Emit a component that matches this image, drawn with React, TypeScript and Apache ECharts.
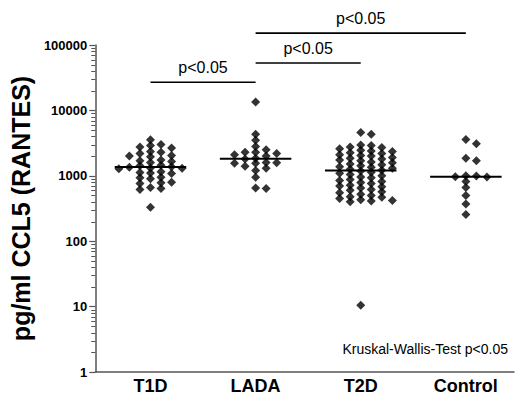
import React, { useEffect, useRef } from "react";
import * as echarts from "echarts";

// ---------- data ----------
const categories = ["T1D", "LADA", "T2D", "Control"];

const t1dValues = [
  3550, 3000, 2900, 2750, 2650, 2350, 2300, 2200, 2050, 2000, 1950, 1750,
  1700, 1650, 1600, 1300, 1280, 1450, 1420, 1380, 1350, 1320, 1150, 1120,
  1100, 1080, 950, 930, 900, 800, 780, 760, 660, 640, 620, 330,
];
const ladaValues = [
  13500, 4300, 3500, 2800, 2500, 2300, 2300, 2200, 2100, 2000, 1850, 1800,
  1600, 1580, 1560, 1550, 1400, 1300, 1200, 950, 650, 640,
];
const t2dValues = [
  4600, 4300, 2950, 2900, 2750, 2700, 2600, 2450, 2400, 2350, 2250, 2200,
  2100, 2050, 2000, 1900, 1850, 1800, 1750, 1700, 1620, 1580, 1520, 1480,
  1420, 1380, 1350, 1300, 1260, 1220, 1180, 1130, 1090, 1050, 1000, 960,
  930, 880, 850, 820, 790, 760, 720, 700, 680, 650, 620, 600, 570, 550,
  520, 500, 480, 470, 450, 430, 420, 410, 400, 10.5,
];
const controlValues = [3600, 3100, 1850, 1700, 1000, 990, 970, 960, 820, 660, 500, 370, 255];

const groups = [t1dValues, ladaValues, t2dValues, controlValues];

// significance comparisons: [from group, to group, label]
const comparisons: [number, number, string][] = [
  [0, 1, "p<0.05"],
  [1, 2, "p<0.05"],
  [1, 3, "p<0.05"],
];
const testNote = "Kruskal-Wallis-Test p<0.05";
const yAxisTitle = "pg/ml CCL5 (RANTES)";

// ---------- layout ----------
const W = 516;
const H = 406;
const GRID = { left: 89, top: 45, right: 2, bottom: 34 };
const X_MIN = -0.525;
const X_MAX = 3.458;
const Y_MIN = 1;
const Y_MAX = 100000;
const bracketLevels = [27000, 53000, 152000];
const MEDIAN_HALF = 0.34;
const COL_W = 10.7;
const MIN_DY = 5;
const AXIS_COLOR = "#555";
const FONT = "'Liberation Sans', Arial, sans-serif";

const gridW = W - GRID.left - GRID.right;
const gridH = H - GRID.top - GRID.bottom;
const pxPerUnit = gridW / (X_MAX - X_MIN);
const pxPerDecade = gridH / Math.log10(Y_MAX / Y_MIN);

function median(arr: number[]) {
  const s = [...arr].sort((a, b) => a - b);
  const n = s.length;
  return n % 2 ? s[(n - 1) / 2] : (s[n / 2 - 1] + s[n / 2]) / 2;
}

// Prism-like column scatter layout
function swarm(values: number[], center: number) {
  const pts = values.map((v) => ({ v, y: Math.log10(v) * pxPerDecade }));
  pts.sort((a, b) => b.v - a.v);
  const placed: { col: number; y: number }[] = [];
  return pts.map((p) => {
    for (let k = 0; k < 40; k++) {
      const col = k === 0 ? 0 : k % 2 === 1 ? (k + 1) / 2 : -k / 2;
      if (!placed.some((q) => q.col === col && Math.abs(q.y - p.y) < MIN_DY)) {
        placed.push({ col, y: p.y });
        return [center + (col * COL_W) / pxPerUnit, p.v];
      }
    }
    return [center, p.v];
  });
}

const minorTicks: number[] = [];
for (let d = 0; d < 5; d++) {
  for (let k = 2; k <= 9; k++) minorTicks.push(k * Math.pow(10, d));
}

export default function App() {
  const ref = useRef<HTMLDivElement>(null);
  useEffect(() => {
    if (!ref.current) return;
    const chart = echarts.init(ref.current, undefined, { renderer: "svg" });

    const scatterSeries = groups.map((vals, gi) => ({
      type: "scatter",
      name: categories[gi],
      symbol: "diamond",
      symbolSize: 9,
      itemStyle: { color: "#000" },
      data: swarm(vals, gi),
      z: 3,
    }));

    const medianSeries = {
      type: "custom",
      clip: false,
      data: groups.map((vals, gi) => [gi, median(vals)]),
      encode: { x: 0, y: 1 },
      renderItem: (params: any, api: any) => {
        const x = api.value(0);
        const y = api.value(1);
        const a = api.coord([x - MEDIAN_HALF, y]);
        const b = api.coord([x + MEDIAN_HALF, y]);
        return {
          type: "line",
          shape: { x1: a[0], y1: a[1], x2: b[0], y2: b[1] },
          style: { stroke: "#000", lineWidth: 2 },
        };
      },
      z: 4,
    };

    const bracketSeries = {
      type: "custom",
      clip: false,
      data: comparisons.map((c, i) => [c[0], c[1], bracketLevels[i]]),
      encode: { x: [0, 1], y: 2 },
      renderItem: (params: any, api: any) => {
        const a = api.coord([api.value(0), api.value(2)]);
        const b = api.coord([api.value(1), api.value(2)]);
        return {
          type: "group",
          children: [
            {
              type: "line",
              shape: { x1: a[0], y1: a[1], x2: b[0], y2: b[1] },
              style: { stroke: "#000", lineWidth: 1.6 },
            },
            {
              type: "text",
              x: (a[0] + b[0]) / 2,
              y: a[1] - 7,
              style: {
                text: comparisons[params.dataIndex][2],
                fill: "#000",
                font: `16px ${FONT}`,
                align: "center",
                verticalAlign: "bottom",
              },
            },
          ],
        };
      },
    };

    const noteGraphic = {
      id: "note",
      type: "text",
      right: 8,
      top: 342,
      style: {
        text: testNote,
        fill: "#000",
        font: `14px ${FONT}`,
      },
    };

    chart.setOption({
      animation: false,
      backgroundColor: "#fff",
      grid: { ...GRID, containLabel: false },
      xAxis: {
        type: "value",
        min: X_MIN,
        max: X_MAX,
        axisLine: { show: true, onZero: false, lineStyle: { color: AXIS_COLOR, width: 1.5 } },
        axisTick: { show: false },
        splitLine: { show: false },
        axisLabel: {
          customValues: [0, 1, 2, 3],
          formatter: (v: number) => categories[Math.round(v)] ?? "",
          color: "#000",
          fontWeight: "bold",
          fontSize: 18,
          fontFamily: FONT,
          margin: 5,
        },
      },
      yAxis: {
        type: "log",
        logBase: 10,
        min: Y_MIN,
        max: Y_MAX,
        axisLine: { show: true, onZero: false, lineStyle: { color: AXIS_COLOR, width: 1.5 } },
        axisTick: { show: true, length: 6, lineStyle: { color: AXIS_COLOR, width: 1.2 } },
        splitLine: { show: false },
        axisLabel: {
          formatter: (v: number) => String(v),
          color: "#000",
          fontWeight: "bold",
          fontSize: 13,
          fontFamily: FONT,
          margin: 8,
        },
        name: yAxisTitle,
        nameLocation: "middle",
        nameGap: 49,
        nameTextStyle: {
          color: "#000",
          fontWeight: "bold",
          fontSize: 25,
          fontFamily: FONT,
        },
      },
      graphic: [noteGraphic],
      series: [...scatterSeries, medianSeries, bracketSeries],
    });

    // minor ticks of the log axis (2..9 per decade), positioned by the axis scale
    const x0 = chart.convertToPixel({ xAxisIndex: 0 }, X_MIN) as number;
    const tickGraphics = minorTicks.map((v, i) => {
      const y = Math.round(chart.convertToPixel({ yAxisIndex: 0 }, v) as number) + 0.5;
      return {
        id: "minor" + i,
        type: "line",
        z: 10,
        shape: { x1: x0 - 4, y1: y, x2: x0, y2: y },
        style: { stroke: AXIS_COLOR, lineWidth: 1 },
      };
    });
    chart.setOption({ graphic: [noteGraphic, ...tickGraphics] });

    return () => chart.dispose();
  }, []);

  return (
    <div
      ref={ref}
      style={{ position: "absolute", left: 0, top: 0, width: W, height: H }}
    />
  );
}
